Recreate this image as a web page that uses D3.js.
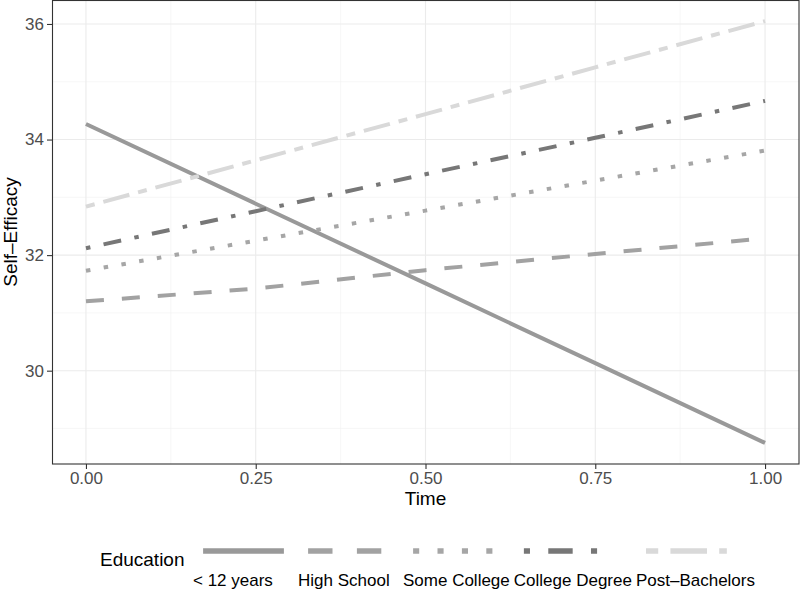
<!DOCTYPE html>
<html>
<head>
<meta charset="utf-8">
<script src="https://cdn.jsdelivr.net/npm/d3@7"></script>
<style>
  html, body { margin: 0; padding: 0; background: #fff; }
  svg { display: block; font-family: "Liberation Sans", Arial, Helvetica, sans-serif; }
</style>
</head>
<body>
<svg id="chart" width="800" height="591"></svg>
<script>
// ---- Data ----
const times = [0, 0.25, 0.5, 0.75, 1];
const categories = ["< 12 years", "High School", "Some College", "College Degree", "Post\u2013Bachelors"];
const lessThan12 = [34.27, 32.89, 31.51, 30.13, 28.75];
const highSchool = [31.20, 31.42, 31.74, 32.02, 32.29];
const someCollege = [31.73, 32.25, 32.77, 33.29, 33.81];
const collegeDegree = [32.12, 32.76, 33.40, 34.03, 34.67];
const postBachelors = [32.84, 33.64, 34.44, 35.25, 36.05];
const xTicks = [0, 0.25, 0.5, 0.75, 1];
const xTickLabels = ["0.00", "0.25", "0.50", "0.75", "1.00"];
const yTicks = [30, 32, 34, 36];

const seriesValues = [lessThan12, highSchool, someCollege, collegeDegree, postBachelors];
const colors = ["#999999", "#a2a2a2", "#a6a6a6", "#777777", "#d9d9d9"];
const dashUnits = [null, [4, 4], [1, 3], [1, 3, 4, 3], [2, 2, 6, 2]];

const series = categories.map((c, i) => ({
  name: c,
  values: times.map((t, j) => ({ t, v: seriesValues[i][j] })),
  color: colors[i],
  dash: dashUnits[i]
}));

// ---- Layout ----
const svg = d3.select("#chart");
const L = 52, R = 799, T = 0, B = 464;

const allV = seriesValues.flat();
const vMin = d3.min(allV), vMax = d3.max(allV);
const pad = (vMax - vMin) * 0.05;
const x = d3.scaleLinear().domain([-0.05, 1.05]).range([L, R]);
const y = d3.scaleLinear().domain([vMin - pad, vMax + pad]).range([B, T]);

// background
svg.append("rect").attr("x", L).attr("y", T).attr("width", R - L).attr("height", B - T).attr("fill", "#fff");

// minor grid
const xMinor = [0.125, 0.375, 0.625, 0.875];
const yMinor = [29, 31, 33, 35];
const grid = svg.append("g");
xMinor.forEach(v => grid.append("line").attr("x1", x(v)).attr("x2", x(v)).attr("y1", T).attr("y2", B)
  .attr("stroke", "#f2f2f2").attr("stroke-width", 0.6));
yMinor.forEach(v => grid.append("line").attr("x1", L).attr("x2", R).attr("y1", y(v)).attr("y2", y(v))
  .attr("stroke", "#f2f2f2").attr("stroke-width", 0.6));
xTicks.forEach(v => grid.append("line").attr("x1", x(v)).attr("x2", x(v)).attr("y1", T).attr("y2", B)
  .attr("stroke", "#ebebeb").attr("stroke-width", 1.1));
yTicks.forEach(v => grid.append("line").attr("x1", L).attr("x2", R).attr("y1", y(v)).attr("y2", y(v))
  .attr("stroke", "#ebebeb").attr("stroke-width", 1.1));

// lines
const plotUnit = 4.5;
const line = d3.line().x(d => x(d.t)).y(d => y(d.v));
svg.append("g").selectAll("path").data(series).join("path")
  .attr("d", d => line(d.values))
  .attr("fill", "none")
  .attr("stroke", d => d.color)
  .attr("stroke-width", 4)
  .attr("stroke-linecap", "butt")
  .attr("stroke-dasharray", d => d.dash ? d.dash.map(u => u * plotUnit).join(",") : null);

// panel border
svg.append("rect").attr("x", L + 0.5).attr("y", T + 0.5).attr("width", R - L - 0.5).attr("height", B - T - 0.5)
  .attr("fill", "none").attr("stroke", "#333333").attr("stroke-width", 1.1);

// axes
const xAxis = d3.axisBottom(x).tickValues(xTicks).tickFormat((d, i) => xTickLabels[i]).tickSize(5).tickPadding(3);
const gx = svg.append("g").attr("transform", `translate(0,${B})`).call(xAxis);
gx.select(".domain").remove();
gx.selectAll(".tick line").attr("stroke", "#333333").attr("stroke-width", 1.1);
gx.selectAll(".tick text").attr("fill", "#4d4d4d").attr("font-size", 17);

const yAxis = d3.axisLeft(y).tickValues(yTicks).tickFormat(d3.format("d")).tickSize(5).tickPadding(3);
const gy = svg.append("g").attr("transform", `translate(${L},0)`).call(yAxis);
gy.select(".domain").remove();
gy.selectAll(".tick line").attr("stroke", "#333333").attr("stroke-width", 1.1);
gy.selectAll(".tick text").attr("fill", "#4d4d4d").attr("font-size", 17);

// axis titles
svg.append("text").attr("x", (L + R) / 2).attr("y", 505).attr("text-anchor", "middle")
  .attr("font-size", 19).attr("fill", "#000").text("Time");
svg.append("text").attr("transform", `translate(17,${(T + B) / 2}) rotate(-90)`).attr("text-anchor", "middle")
  .attr("font-size", 19).attr("fill", "#000").text("Self\u2013Efficacy");

// legend
const legend = svg.append("g");
legend.append("text").attr("x", 100).attr("y", 566).attr("font-size", 19).attr("fill", "#000").text("Education");
const keyW = 101, legUnit = 6.1, keyY = 551;
let cx = 193;
series.forEach(s => {
  const lab = legend.append("text").attr("x", cx).attr("y", 586).attr("font-size", 17).attr("fill", "#000").text(s.name);
  const w = lab.node().getComputedTextLength();
  legend.append("line").attr("x1", cx + keyW * 0.1).attr("x2", cx + keyW * 0.9).attr("y1", keyY).attr("y2", keyY)
    .attr("stroke", s.color).attr("stroke-width", 5.5)
    .attr("stroke-dasharray", s.dash ? s.dash.map(u => u * legUnit).join(",") : null);
  cx += Math.max(keyW, w) + 4;
});
</script>
</body>
</html>
